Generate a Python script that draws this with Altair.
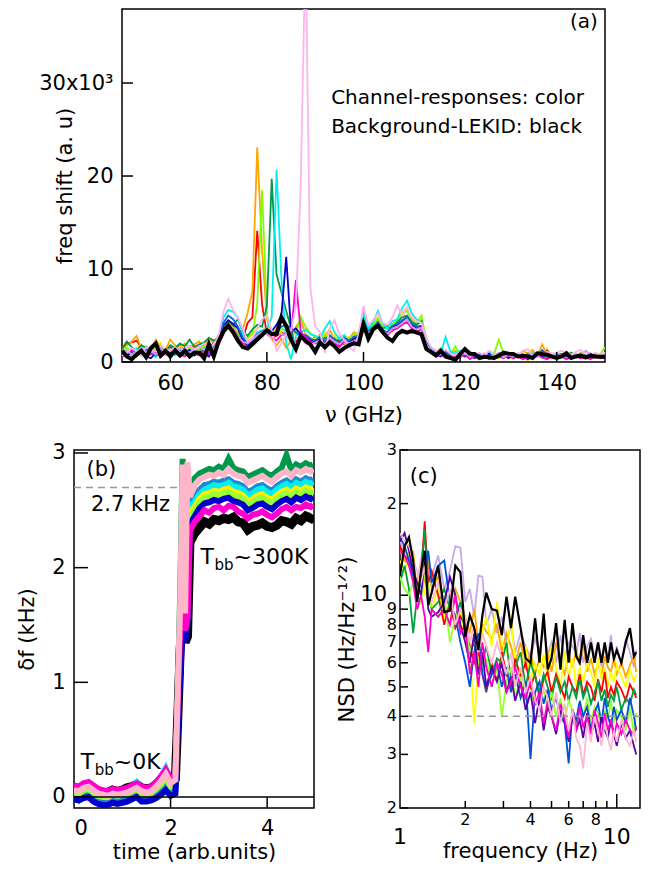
import altair as alt
import pandas as pd

FONT = "DejaVu Sans"

# ======================= panel (a) data =======================
a_ghz = list(range(50, 151))
a_black = [1.2,0.6,0.3,0.8,1.2,0.5,1.5,2.0,0.7,1.2,
           0.6,1.25,0.7,1.2,0.6,1.0,1.0,0.4,1.9,0.6,
           2.2,3.3,3.9,3.2,2.3,1.6,1.45,1.9,2.4,2.9,
           3.4,3.0,3.0,4.8,3.9,2.4,1.4,2.8,2.25,1.9,
           1.1,2.1,1.6,2.1,1.7,1.1,1.5,1.8,2.0,1.9,
           4.05,2.5,3.5,3.9,3.2,2.6,2.25,3.0,3.35,3.15,
           3.35,3.15,3.0,1.4,1.07,0.7,1.2,0.6,0.43,0.22,
           0.86,1.4,0.9,0.86,0.43,0.57,0.5,0.43,0.68,1.0,
           0.9,0.86,0.6,0.68,0.6,0.43,0.93,0.85,0.79,0.57,
           0.43,0.6,0.93,0.43,0.6,0.68,0.5,0.68,0.6,0.57,0.57]
a_red = [1.5,2.0,2.1,2.3,1.6,1.2,1.5,1.0,1.8,1.2,
         1.6,1.3,1.8,1.1,1.4,1.7,1.2,1.9,1.5,2.1,
         2.5,3.6,4.2,3.8,3.0,2.4,4.2,4.8,14.1,6.2,
         3.0,2.6,2.8,3.2,2.9,2.5,2.2,2.6,2.4,2.0,
         2.8,2.4,2.9,2.1,2.6,2.3,1.9,2.5,2.8,2.6,
         4.6,3.2,4.1,4.4,3.5,3.0,3.6,4.0,4.4,4.9,
         4.0,3.8,3.9,2.2,1.4,1.1,1.3,0.9,0.7,0.8,
         1.0,1.2,0.8,0.6,0.9,0.5,0.7,0.6,0.9,0.8,
         0.7,0.9,0.5,0.8,0.6,1.0,0.7,0.8,0.5,0.6,
         0.7,0.5,0.8,0.6,0.7,0.9,0.5,0.6,0.7,0.5,0.6]
a_orange = [1.0,1.8,2.2,2.8,1.5,1.7,1.2,2.4,1.6,1.3,
            2.4,1.8,1.4,2.0,1.6,1.9,2.2,1.5,2.6,2.0,
            2.9,3.4,4.0,3.6,3.1,3.5,5.3,7.6,23.1,12.0,
            4.7,2.5,1.8,2.5,1.5,2.3,3.8,4.5,3.0,2.6,
            2.2,3.0,2.7,3.5,2.4,2.0,2.8,2.5,3.2,2.9,
            4.2,3.6,3.9,4.6,3.8,4.0,3.3,4.4,5.0,5.6,
            4.6,4.2,4.5,2.6,1.3,1.0,1.5,1.1,0.8,1.2,
            0.9,0.6,1.1,0.7,0.5,0.9,0.4,1.0,0.7,0.6,
            1.0,0.8,0.6,1.2,0.9,1.3,0.7,1.9,0.8,0.6,
            0.9,0.7,1.1,0.8,0.6,1.0,0.7,0.9,0.8,0.7,1.0]
a_yellow = [0.8,1.2,0.6,1.5,1.9,0.9,1.6,1.1,2.0,0.7,
            1.4,1.0,1.7,1.3,0.9,1.6,1.2,0.8,1.5,1.8,
            2.2,3.0,4.2,3.5,2.6,2.0,2.4,3.1,3.6,3.9,
            3.2,2.8,3.6,3.1,2.7,2.9,3.4,3.0,2.5,2.3,
            2.6,2.1,3.2,2.4,2.9,1.8,2.3,2.7,2.5,3.0,
            4.9,3.3,4.4,4.8,3.6,3.7,3.9,4.6,5.3,5.8,
            4.8,4.3,4.6,2.4,1.2,0.7,1.1,0.6,0.4,0.9,
            0.6,0.9,0.4,0.7,0.3,0.6,0.8,0.5,0.4,0.7,
            0.5,0.3,0.7,0.6,0.2,0.5,0.8,0.4,1.4,0.6,
            0.5,0.7,0.4,0.6,0.9,0.5,0.3,0.6,0.4,0.7,0.5]
a_lime = [1.2,1.6,1.0,1.4,0.8,1.7,1.1,1.5,0.9,1.3,
          1.0,1.5,1.2,0.8,1.6,1.1,1.4,1.7,1.2,1.6,
          2.0,3.2,4.0,3.7,3.0,2.3,2.6,3.0,6.2,18.5,
          5.0,3.4,3.0,3.6,3.2,3.4,3.0,4.9,3.8,3.1,
          2.7,2.4,2.9,2.6,2.2,2.8,2.0,2.6,2.9,3.2,
          5.0,3.5,4.0,4.7,3.9,3.5,4.1,4.4,5.2,5.5,
          4.4,4.1,5.0,2.3,1.2,0.9,0.7,1.0,0.8,1.7,
          0.8,1.0,0.6,0.5,0.7,0.9,0.6,0.8,2.4,1.0,
          0.7,0.5,0.9,0.6,0.8,0.5,0.7,0.9,0.6,0.8,
          0.6,0.9,0.7,0.5,0.8,0.6,0.9,0.7,0.6,0.8,1.6]
a_green = [1.4,2.2,1.6,1.2,1.8,1.5,1.3,1.9,1.6,1.1,
           1.8,1.5,2.0,1.7,2.4,1.6,1.9,2.1,2.6,2.3,
           2.6,3.4,4.4,4.0,4.6,3.3,2.8,3.5,4.0,3.8,
           6.0,19.7,9.4,7.5,5.5,3.6,1.2,3.0,2.7,2.3,
           2.4,2.0,2.6,2.2,2.5,2.1,2.7,2.3,2.6,2.8,
           4.5,3.4,3.8,4.2,3.6,3.9,3.5,4.3,4.8,5.0,
           4.3,4.0,4.4,2.0,1.5,1.2,0.9,1.2,0.6,0.8,
           1.1,0.7,0.9,0.5,0.8,0.6,0.4,0.7,0.9,0.5,
           0.8,0.6,0.7,0.4,0.9,0.6,0.8,0.5,0.7,0.9,
           0.5,0.8,0.6,1.0,0.7,0.5,0.8,0.6,0.7,0.5,0.8]
a_cyan = [0.6,1.1,0.9,1.4,0.7,1.2,1.0,0.5,1.3,0.8,
          1.1,0.7,1.3,0.9,1.2,0.8,1.0,1.4,1.1,1.7,
          2.1,4.8,5.6,5.4,4.8,3.0,1.5,2.4,3.2,3.4,
          3.6,4.8,20.7,9.0,2.0,0.3,2.8,3.2,3.5,3.0,
          2.8,2.6,3.6,4.4,3.2,2.5,2.9,2.2,2.6,2.9,
          5.3,3.6,4.3,5.5,4.1,3.6,4.4,4.6,5.8,6.6,
          5.2,4.6,4.2,2.4,1.5,0.9,1.0,2.7,1.1,0.9,
          1.2,0.8,1.0,0.6,0.9,0.7,1.1,0.5,0.8,1.0,
          0.6,0.9,0.7,0.5,0.8,1.0,0.6,0.7,0.9,0.5,
          0.8,0.6,1.0,0.7,0.5,0.9,0.6,0.8,0.5,0.7,0.6]
a_blue = [0.9,0.5,1.2,0.8,1.4,0.6,0.4,1.0,0.7,1.1,
          0.8,1.2,0.6,1.0,1.3,0.7,1.1,0.9,0.6,1.4,
          2.3,3.9,4.5,4.1,3.6,2.4,1.8,2.2,2.8,3.1,
          3.5,3.3,4.0,5.0,11.3,3.3,3.6,3.0,2.6,2.4,
          2.2,2.5,2.0,2.7,2.3,1.8,2.4,2.1,2.5,2.7,
          4.3,3.1,3.6,4.0,3.3,3.1,3.8,3.9,4.3,4.7,
          4.0,3.6,3.8,1.9,1.1,0.8,0.6,1.0,0.7,0.5,
          0.9,0.6,0.8,0.4,0.7,0.5,0.9,0.3,0.6,0.8,
          0.4,0.7,0.5,0.8,0.3,0.6,0.9,0.5,1.2,0.7,
          0.4,0.6,0.8,0.5,0.7,0.4,0.6,0.9,0.5,0.6,0.4]
a_royal = [1.1,0.8,1.3,0.6,1.0,1.4,0.9,0.7,1.2,1.0,
           1.3,0.9,1.1,1.5,0.8,1.2,1.0,1.3,0.9,1.5,
           2.4,4.2,5.0,4.6,3.8,2.6,2.0,2.5,3.0,3.3,
           3.4,3.0,3.3,3.8,4.0,3.6,3.2,2.8,2.9,2.5,
           2.3,2.7,2.2,2.9,2.4,2.0,2.6,2.3,2.7,2.8,
           4.4,3.2,3.7,4.3,3.4,3.2,3.9,4.1,4.5,4.8,
           4.1,3.8,3.6,2.0,1.3,0.9,0.8,1.1,0.6,0.7,
           1.0,0.7,0.9,0.6,0.8,0.5,0.7,0.6,0.9,0.6,
           0.8,0.6,0.9,0.5,0.7,0.8,0.6,1.3,0.7,0.5,
           0.7,0.9,0.6,0.8,0.5,0.7,0.6,0.8,0.7,0.5,0.7]
a_magenta = [0.5,0.9,1.3,0.7,1.1,0.6,0.8,1.2,0.5,1.0,
             0.7,1.1,0.8,0.6,1.0,0.9,0.7,1.2,0.8,1.3,
             1.9,3.0,3.8,3.5,2.8,2.1,1.6,2.0,2.5,2.9,
             3.1,2.7,2.3,2.9,3.0,2.7,8.8,3.3,2.6,2.2,
             2.0,2.3,1.8,2.4,2.1,1.6,2.2,1.9,2.3,2.5,
             4.0,3.0,3.4,3.8,3.1,2.9,3.4,3.6,4.0,4.3,
             3.6,3.3,3.5,1.7,1.0,0.6,0.8,0.5,0.4,0.7,
             0.5,0.8,0.3,0.6,0.4,0.7,0.3,0.5,0.6,0.4,
             0.7,0.4,0.6,0.3,0.5,0.4,0.7,0.5,0.3,0.6,
             0.4,0.6,0.3,0.5,0.7,0.4,0.5,0.3,0.6,0.4,0.5]
a_lavender = [1.0,1.3,0.8,1.1,1.5,1.0,1.2,0.8,1.4,1.1,
              1.4,1.1,1.5,1.2,1.0,1.4,1.7,1.3,1.6,1.4,
              2.2,3.1,3.6,3.3,2.7,2.2,2.0,2.4,2.9,3.2,
              3.0,2.6,3.1,3.0,2.8,2.3,2.5,2.7,2.0,1.8,
              2.1,2.3,1.9,2.6,2.2,1.9,2.4,2.0,2.2,2.4,
              4.1,3.1,3.5,3.9,3.3,3.0,3.6,3.8,4.2,4.6,
              3.8,3.5,3.7,1.9,1.2,0.8,0.9,0.7,0.5,0.9,
              0.7,1.0,0.6,0.8,0.5,0.9,0.6,0.7,1.0,0.5,
              0.8,0.6,0.9,0.7,0.5,0.8,0.6,0.9,0.7,0.8,
              0.6,0.8,1.0,0.7,0.9,0.6,1.2,0.8,0.6,0.9,0.7]
a_pink = [0.7,1.0,1.5,1.2,0.8,1.6,1.3,1.1,1.7,1.4,
          1.2,1.6,1.0,1.4,1.8,1.3,1.6,2.0,1.5,1.9,
          2.8,5.4,6.8,5.6,4.8,3.6,2.2,2.6,3.6,4.6,
          5.0,3.4,1.2,2.0,3.0,3.4,6.0,19.0,45.0,8.0,
          3.8,3.2,1.0,3.6,4.5,3.0,2.4,1.6,1.2,3.0,
          6.0,4.0,4.5,5.2,4.2,4.0,4.8,6.1,5.0,5.9,
          4.8,4.4,4.2,2.6,1.6,1.2,1.0,1.3,0.9,0.7,
          1.1,0.9,1.2,0.8,1.0,0.7,1.2,0.9,0.8,1.1,
          0.9,1.0,0.8,1.2,1.4,0.7,1.0,0.8,1.1,0.9,
          1.0,1.2,0.9,0.8,1.1,1.3,0.9,0.7,1.0,0.8,1.0]

a_series = {"red": a_red, "orange": a_orange, "yellow": a_yellow, "lime": a_lime,
            "green": a_green, "cyan": a_cyan, "blue": a_blue, "royal": a_royal,
            "magenta": a_magenta, "lavender": a_lavender, "pink": a_pink}
a_colors = {"red": "#ff0000", "orange": "#ffa500", "yellow": "#ffe000", "lime": "#80ff00",
            "green": "#00994c", "cyan": "#00f0f0", "blue": "#0000cc", "royal": "#1060e0",
            "magenta": "#ff00cc", "lavender": "#c8a0e6", "pink": "#ffb3ec"}
a_ytick_vals = [0, 10, 20, 30]
a_xtick_vals = [60, 80, 100, 120, 140]

# ======================= panel (b) data =======================
b_time = [0.0,0.1,0.2,0.3,0.4,0.5,0.6,0.7,0.8,0.9,1.0,1.1,1.2,1.3,1.4,1.5,1.6,1.7,1.8,1.9,2.0,2.1,
          2.15,2.2,2.25,2.3,2.35,2.4,
          2.5,2.6,2.7,2.8,2.9,3.0,3.1,3.2,3.3,3.4,3.5,3.6,3.7,3.8,3.9,4.0,4.1,4.2,4.3,4.4,4.5,4.6,4.7,4.8,4.9,4.95]
b_black = [0.08,0.07,0.10,0.11,0.08,0.05,0.04,0.04,0.06,0.05,0.06,0.08,0.09,0.11,0.08,0.07,0.08,0.11,0.15,0.21,0.13,0.16,
           0.70,1.30,1.60,1.35,1.40,2.22,
           2.30,2.35,2.40,2.38,2.42,2.41,2.43,2.42,2.44,2.40,2.39,2.33,2.36,2.37,2.39,2.36,2.35,2.37,2.41,2.40,2.38,2.43,2.41,2.45,2.43,2.46]
b_green = [-0.02,-0.03,0.00,0.01,-0.02,-0.05,-0.06,-0.06,-0.04,-0.05,-0.04,-0.03,-0.01,0.01,-0.03,-0.03,-0.02,0.01,0.05,0.10,0.03,0.06,
           0.90,1.80,2.95,1.50,1.80,2.68,
           2.78,2.82,2.84,2.86,2.85,2.88,2.86,2.95,2.87,2.85,2.84,2.79,2.81,2.83,2.85,2.82,2.80,2.84,2.87,2.98,2.85,2.90,2.88,2.91,2.89,2.90]
b_steel = [0.00,-0.01,0.02,0.03,0.00,-0.03,-0.04,-0.04,-0.02,-0.03,-0.02,-0.01,0.01,0.03,-0.01,-0.01,0.00,0.03,0.07,0.12,0.05,0.08,
           0.80,1.55,2.00,1.55,1.85,2.55,
           2.62,2.68,2.72,2.73,2.75,2.74,2.76,2.77,2.74,2.73,2.71,2.66,2.68,2.71,2.72,2.69,2.67,2.71,2.74,2.76,2.73,2.77,2.75,2.78,2.76,2.78]
b_cyan = [0.09,0.08,0.11,0.12,0.09,0.06,0.05,0.05,0.06,0.05,0.06,0.07,0.09,0.13,0.08,0.07,0.08,0.12,0.17,0.25,0.15,0.18,
          0.85,1.55,1.90,1.55,1.80,2.52,
          2.58,2.64,2.68,2.70,2.72,2.71,2.72,2.74,2.71,2.70,2.68,2.63,2.65,2.68,2.69,2.66,2.64,2.68,2.71,2.73,2.70,2.74,2.72,2.75,2.73,2.75]
b_yellow = [0.05,0.04,0.07,0.08,0.05,0.02,0.01,0.01,0.03,0.02,0.03,0.04,0.05,0.08,0.04,0.03,0.04,0.08,0.12,0.18,0.10,0.13,
            0.80,1.50,1.85,1.50,1.75,2.48,
            2.53,2.60,2.64,2.65,2.67,2.66,2.68,2.69,2.66,2.65,2.63,2.58,2.60,2.63,2.64,2.61,2.59,2.63,2.66,2.68,2.65,2.69,2.67,2.70,2.68,2.70]
b_lime = [0.04,0.03,0.06,0.07,0.04,0.01,0.00,0.00,0.02,0.01,0.02,0.03,0.05,0.07,0.03,0.03,0.04,0.07,0.11,0.17,0.09,0.12,
          0.80,1.50,1.80,1.50,1.70,2.45,
          2.50,2.57,2.61,2.62,2.64,2.63,2.65,2.66,2.63,2.62,2.60,2.55,2.57,2.60,2.61,2.58,2.56,2.60,2.63,2.65,2.62,2.66,2.64,2.67,2.65,2.67]
b_blue = [-0.02,-0.03,-0.01,0.00,-0.04,-0.06,-0.07,-0.07,-0.05,-0.06,-0.05,-0.04,-0.02,0.00,-0.04,-0.04,-0.03,-0.01,0.02,0.06,0.01,0.03,
          0.60,1.05,1.50,1.35,1.50,2.38,
          2.45,2.52,2.56,2.57,2.59,2.58,2.60,2.61,2.58,2.57,2.55,2.50,2.52,2.55,2.56,2.53,2.51,2.55,2.58,2.60,2.57,2.61,2.59,2.62,2.60,2.62]
b_magenta = [0.10,0.09,0.12,0.13,0.10,0.07,0.06,0.05,0.07,0.06,0.07,0.08,0.10,0.12,0.09,0.08,0.09,0.13,0.18,0.24,0.16,0.19,
             0.85,1.45,1.70,1.45,1.55,2.32,
             2.40,2.45,2.50,2.48,2.52,2.53,2.50,2.54,2.53,2.49,2.47,2.43,2.46,2.47,2.49,2.46,2.44,2.47,2.51,2.53,2.50,2.53,2.52,2.55,2.53,2.55]
b_pink = [0.06,0.05,0.08,0.09,0.06,0.03,0.02,0.01,0.03,0.02,0.03,0.04,0.06,0.08,0.05,0.04,0.05,0.09,0.14,0.20,0.12,0.15,
          0.95,1.70,2.90,1.60,2.92,2.62,
          2.72,2.77,2.79,2.81,2.80,2.83,2.81,2.86,2.82,2.80,2.79,2.74,2.76,2.78,2.80,2.77,2.75,2.79,2.82,2.84,2.80,2.85,2.83,2.86,2.84,2.86]
b_series = {"green": b_green, "steel": b_steel, "cyan": b_cyan, "yellow": b_yellow, "lime": b_lime,
            "blue": b_blue, "magenta": b_magenta, "pink": b_pink}
b_colors = {"green": "#00994c", "steel": "#1f8ad0", "cyan": "#00f0f0", "yellow": "#ffee00",
            "lime": "#99ff33", "blue": "#0000cc", "magenta": "#ff00cc", "pink": "#ffb6c8"}
b_ytick_vals = [0, 1, 2, 3]
b_xtick_vals = [2, 4]
b_xlabel_vals = [0, 2, 4]
b_ref_level = 2.7
b_ref_end = 2.24

# ======================= panel (c) data =======================
c_freq = [1.0,1.05,1.1,1.15,1.2,1.25,1.3,1.35,1.4,1.5,
          1.6,1.7,1.8,1.9,2.0,2.1,2.2,2.3,2.4,2.5,
          2.65,2.8,2.95,3.1,3.25,3.4,3.6,3.8,4.0,4.2,
          4.4,4.6,4.8,5.0,5.25,5.5,5.75,6.0,6.25,6.5,
          6.75,7.0,7.3,7.6,7.9,8.2,8.5,8.8,9.1,9.4,
          9.7,10.0,10.5,11.0,11.5,12.0,12.3]
c_black = [11.6,14.5,15.5,13.0,9.5,12.0,14.0,9.3,10.2,12.5,
           8.8,8.9,12.5,11.9,7.3,8.6,7.8,6.6,8.6,10.2,
           9.0,8.9,7.4,9.9,7.8,9.9,7.8,6.2,6.0,8.4,
           6.0,8.7,5.7,6.2,8.1,5.7,8.3,6.0,8.1,6.3,
           6.0,7.4,6.0,7.0,6.0,7.0,6.0,7.0,6.0,7.0,
           6.2,6.6,6.0,7.0,7.8,6.3,6.5]
c_lavender = [15.0,14.0,13.5,12.0,11.0,13.0,15.5,12.5,11.5,13.5,
              10.5,12.0,14.5,14.3,9.5,10.5,8.5,11.6,11.5,8.0,
              9.0,7.5,8.5,7.0,8.0,6.5,7.5,6.8,6.2,7.2,
              6.5,7.8,6.4,7.0,6.0,7.4,6.2,7.0,6.8,6.4,
              7.5,6.0,6.8,7.2,6.3,7.0,5.8,6.9,6.2,7.4,
              6.0,6.8,5.9,7.2,6.5,5.8,6.6]
c_orange = [14.0,13.0,12.5,14.0,10.0,12.0,11.0,13.5,10.5,11.5,
            9.0,8.0,10.5,9.5,8.5,7.5,9.0,7.0,8.0,7.6,
            7.2,8.0,6.5,7.5,6.8,6.0,7.0,5.8,6.5,5.5,
            6.2,5.8,6.5,5.6,7.0,6.0,5.5,6.4,5.8,6.6,
            5.9,7.0,5.6,6.2,5.5,6.0,5.4,6.3,5.8,5.6,
            6.2,5.5,6.0,5.4,5.9,6.3,5.6]
c_yellow = [13.0,12.0,14.0,11.5,10.5,12.5,10.0,11.0,9.0,10.5,
            8.5,9.5,8.0,9.0,7.0,6.5,3.8,6.0,7.5,8.5,
            6.8,9.5,7.0,6.5,8.5,6.0,5.5,6.8,5.2,6.0,
            5.5,6.4,5.2,6.8,5.8,5.0,6.5,5.4,6.2,5.0,
            5.8,5.2,6.0,5.6,5.0,6.2,5.3,5.8,5.0,5.6,
            5.2,5.9,5.4,5.0,5.7,5.2,5.5]
c_red = [14.5,13.5,13.0,12.0,10.0,11.5,17.5,11.0,12.0,10.0,
         8.0,9.5,7.8,8.5,8.0,6.8,6.0,6.5,5.5,4.8,
         6.0,5.2,6.5,5.5,5.0,6.2,5.4,6.0,5.0,5.5,
         4.6,5.3,5.6,4.8,5.5,5.0,4.6,5.4,5.0,4.8,
         5.5,4.7,5.2,5.0,4.5,5.3,4.8,5.6,4.6,5.0,
         4.7,5.2,4.9,4.5,5.1,4.8,4.6]
c_green = [11.0,12.5,10.5,7.5,10.0,11.5,16.5,10.0,9.0,9.5,
           10.5,9.0,8.5,9.5,7.5,6.5,7.0,5.5,6.0,6.8,
           5.5,6.2,6.0,7.0,5.2,5.8,6.5,5.0,6.0,5.4,
           4.8,5.5,5.0,4.6,5.4,4.8,5.2,4.5,5.0,4.6,
           5.3,4.6,5.0,4.4,4.8,5.2,4.5,4.9,4.3,4.7,
           4.5,5.0,4.2,4.6,4.4,4.9,4.7]
c_lime = [11.5,10.5,10.0,11.0,9.0,9.5,12.0,10.5,9.0,8.5,
          10.0,7.0,8.5,9.0,8.0,6.5,7.2,6.0,5.5,6.2,
          5.0,5.8,4.0,5.2,5.8,4.6,5.4,4.2,4.8,4.4,
          4.5,4.9,4.2,4.8,4.0,4.6,3.9,4.5,4.2,3.7,
          4.4,4.0,4.6,3.8,4.3,4.1,3.6,4.2,3.9,4.5,
          3.8,4.2,4.0,3.6,4.3,3.5,4.1]
c_blue = [15.5,14.5,13.0,11.5,10.0,11.0,12.5,14.0,11.0,12.5,
          13.0,9.5,8.5,7.0,6.0,5.0,6.5,7.5,5.5,4.9,
          5.5,6.0,5.0,5.8,4.8,5.5,4.6,5.2,2.9,4.8,
          5.2,4.4,4.9,4.2,4.6,4.0,3.8,2.8,4.2,3.9,
          4.5,4.0,4.3,3.6,4.1,4.4,3.8,4.6,4.0,3.7,
          4.3,3.9,4.2,3.8,4.6,4.0,3.6]
c_purple = [15.0,16.0,14.0,12.0,11.0,10.0,13.0,9.0,8.5,8.8,
            9.5,11.5,10.0,8.0,7.0,6.0,7.5,5.5,6.5,5.0,
            5.8,5.2,6.0,4.8,5.4,4.5,5.2,4.2,4.8,3.8,
            4.6,3.6,4.3,4.0,3.5,4.2,3.8,3.3,4.0,3.6,
            3.9,3.4,4.1,3.5,3.8,3.3,4.0,3.6,3.4,3.9,
            3.5,3.2,3.8,3.4,3.6,3.2,3.0]
c_magenta = [14.0,13.5,12.5,11.0,9.0,10.0,8.5,6.5,9.0,8.5,
             9.0,8.0,10.0,7.5,8.0,5.5,6.5,5.0,7.0,5.8,
             5.0,6.0,5.5,4.8,5.2,5.8,5.0,4.6,5.2,4.4,
             4.8,3.8,4.5,4.0,3.6,4.4,3.9,3.4,4.2,3.6,
             4.3,3.7,4.0,3.5,4.2,3.8,3.4,4.1,3.6,3.9,
             3.4,3.8,3.5,3.9,3.6,3.5,3.7]
c_pink = [16.0,15.0,14.5,13.0,12.0,11.0,12.5,10.0,9.5,11.0,
          9.0,10.5,8.0,9.0,8.5,7.0,8.0,6.5,7.5,6.8,
          6.0,7.0,6.2,5.5,6.5,5.0,5.8,4.8,5.4,4.5,
          4.2,5.0,4.6,4.0,4.8,3.8,4.4,3.6,4.2,3.4,
          3.2,2.7,3.8,3.3,4.0,3.6,3.2,3.8,3.4,3.1,
          3.6,3.3,3.9,3.4,3.2,3.6,3.3]
c_series = {"lavender": c_lavender, "orange": c_orange, "yellow": c_yellow, "red": c_red,
            "green": c_green, "lime": c_lime, "blue": c_blue, "purple": c_purple,
            "magenta": c_magenta, "pink": c_pink}
c_colors = {"lavender": "#c8a8e8", "orange": "#ffa500", "yellow": "#ffff00", "red": "#ff0000",
            "green": "#00a040", "lime": "#99ff33", "blue": "#0050d8", "purple": "#5500a8",
            "magenta": "#ff00cc", "pink": "#ffb6d0"}
c_minor_vals = [2, 3, 4, 5, 6, 7, 8, 9]
c_major_vals = [10]
c_ytick_vals = [2, 3, 4, 5, 6, 7, 8, 9, 10, 20, 30]
c_ylab_vals = [2, 3, 4, 5, 6, 7, 8, 9, 20, 30]
c_ylab_text = ["2", "3", "4", "5", "6", "7", "8", "9", "2", "3"]
c_xlab_small_vals = [2, 4, 6, 8]
c_xlab_small_text = ["2", "4", "6", "8"]
c_xlab_big_vals = [1, 10]
c_xlab_big_text = ["1", "10"]
c_ref_level = 4


def long_df(x, series, colors):
    rows = []
    for name, vals in series.items():
        assert len(vals) == len(x), (name, len(vals), len(x))
        rows += [{"x": xi, "y": yi, "s": name, "c": colors[name]} for xi, yi in zip(x, vals)]
    return pd.DataFrame(rows)


def frame(px1, py1, px2, py2):
    # invisible (white) anchor that fixes the panel's outer bounds for the layout
    return alt.Chart(pd.DataFrame({"k": [0]})).mark_rule(color="white", strokeWidth=0.5).encode(
        x=alt.value(px1), x2=alt.value(px2), y=alt.value(py1), y2=alt.value(py2))


def spacer():
    return alt.Chart(pd.DataFrame({"k": [0]})).mark_rule(color="white", strokeWidth=0.5).encode(
        x=alt.value(0), x2=alt.value(1), y=alt.value(0)).properties(
        width=1, height=1, view=alt.ViewBackground(stroke="transparent"))


# ======================= panel (a) chart =======================
A_W, A_H = 483, 353
sxa = alt.Scale(domain=[50, 150], nice=False, zero=False)
sya = alt.Scale(domain=[0, 37.96], nice=False, zero=False)
axa_x = alt.Axis(values=a_xtick_vals, title="ν (GHz)", labelPadding=10, titlePadding=11)
axa_y = alt.Axis(values=a_ytick_vals, title="freq shift (a. u)",
                 labelExpr="datum.value == 30 ? '30x10³' : datum.label",
                 labelPadding=9, minExtent=40, maxExtent=40, titlePadding=7)


def XA(f):
    return alt.X(f, scale=sxa, axis=axa_x)


def YA(f):
    return alt.Y(f, scale=sya, axis=axa_y)


df_a = long_df(a_ghz, a_series, a_colors)
df_ak = pd.DataFrame({"x": a_ghz, "y": a_black})

a_lines = alt.Chart(df_a).mark_line(strokeWidth=1.8, clip=True).encode(
    x=XA("x:Q"), y=YA("y:Q"), detail="s:N", color=alt.Color("c:N", scale=None))
a_blk = alt.Chart(df_ak).mark_line(color="black", strokeWidth=4, clip=True).encode(x=XA("x:Q"), y=YA("y:Q"))
a_yt = alt.Chart(pd.DataFrame({"y": a_ytick_vals})).mark_rule(color="black", strokeWidth=1.5).encode(
    y=YA("y:Q"), x=alt.value(0), x2=alt.value(11))
a_xt = alt.Chart(pd.DataFrame({"x": a_xtick_vals})).mark_rule(color="black", strokeWidth=1.5).encode(
    x=XA("x:Q"), y=alt.value(A_H), y2=alt.value(A_H - 10))
a_txt = alt.Chart(pd.DataFrame({"x": [93.3, 93.3], "y": [27.7, 24.6],
                                "t": ["Channel-responses: color", "Background-LEKID: black"]})).mark_text(
    align="left", baseline="alphabetic", fontSize=20, font=FONT).encode(x=XA("x:Q"), y=YA("y:Q"), text="t:N")
a_lab = alt.Chart(pd.DataFrame({"x": [148.5], "y": [35.9], "t": ["(a)"]})).mark_text(
    align="right", baseline="alphabetic", fontSize=20, font=FONT).encode(x=XA("x:Q"), y=YA("y:Q"), text="t:N")
chart_a = alt.layer(a_lines, a_blk, a_yt, a_xt, a_txt, a_lab,
                    frame(-110, 0, -110, A_H + 66)).properties(width=A_W, height=A_H)

# ======================= panel (b) chart =======================
B_W, B_H = 240, 358
sxb = alt.Scale(domain=[0, 4.97], nice=False, zero=False)
syb = alt.Scale(domain=[-0.096, 3.026], nice=False, zero=False)
axb_x = alt.Axis(values=b_xlabel_vals, title="time (arb.units)", labelPadding=9, titlePadding=3)
axb_y = alt.Axis(values=b_ytick_vals, title="δf (kHz)", labelPadding=9, minExtent=22, maxExtent=22,
                 titlePadding=15)


def XB(f):
    return alt.X(f, scale=sxb, axis=axb_x)


def YB(f):
    return alt.Y(f, scale=syb, axis=axb_y)


df_b = long_df(b_time, b_series, b_colors)
df_bk = pd.DataFrame({"x": b_time, "y": b_black})

b_blk = alt.Chart(df_bk).mark_line(color="black", strokeWidth=9, clip=True).encode(x=XB("x:Q"), y=YB("y:Q"))
b_lines = alt.Chart(df_b).mark_line(strokeWidth=6, clip=True).encode(
    x=XB("x:Q"), y=YB("y:Q"), detail="s:N", color=alt.Color("c:N", scale=None))
b_zero = alt.Chart(pd.DataFrame({"y": [0]})).mark_rule(color="black", strokeWidth=1.5).encode(y=YB("y:Q"))
b_dash = alt.Chart(pd.DataFrame({"x": [0], "x1": [b_ref_end], "y": [b_ref_level]})).mark_rule(
    color="#999999", strokeWidth=1.5, strokeDash=[7, 5]).encode(x=XB("x:Q"), x2="x1:Q", y=YB("y:Q"))
b_yt = alt.Chart(pd.DataFrame({"y": b_ytick_vals})).mark_rule(color="black", strokeWidth=1.5).encode(
    y=YB("y:Q"), x=alt.value(0), x2=alt.value(14))
b_xt = alt.Chart(pd.DataFrame({"x": b_xtick_vals})).mark_rule(color="black", strokeWidth=1.5).encode(
    x=XB("x:Q"), y=alt.value(B_H), y2=alt.value(B_H - 11))


def btext(x, y, t, size, dx=0, dy=0, align="left"):
    return alt.Chart(pd.DataFrame({"x": [x], "y": [y], "t": [t]})).mark_text(
        align=align, baseline="alphabetic", fontSize=size, font=FONT, dx=dx, dy=dy).encode(
        x=XB("x:Q"), y=YB("y:Q"), text="t:N")


b_texts = [
    btext(0.26, 2.80, "(b)", 21),
    btext(0.35, 2.49, "2.7 kHz", 21),
    btext(2.62, 2.03, "T", 22), btext(2.62, 2.03, "bb", 15, dx=14, dy=6), btext(2.62, 2.03, "~300K", 22, dx=33),
    btext(0.14, 0.24, "T", 22), btext(0.14, 0.24, "bb", 15, dx=14, dy=6), btext(0.14, 0.24, "~0K", 22, dx=33),
]
chart_b = alt.layer(b_blk, b_lines, b_zero, b_dash, b_yt, b_xt, *b_texts,
                    frame(-62, -20, -62, -19), frame(B_W + 2, 0, B_W + 2, 1)).properties(width=B_W, height=B_H)

# ======================= panel (c) chart =======================
C_W, C_H = 240, 358
sxc = alt.Scale(type="log", domain=[1, 12.8], nice=False)
syc = alt.Scale(type="log", domain=[2, 30], nice=False)
axc_x = alt.Axis(labels=False, title="frequency (Hz)", minExtent=0, maxExtent=0, titlePadding=32)
axc_y = alt.Axis(labels=False, title="NSD (Hz/Hz⁻¹ᐟ²)", minExtent=0, maxExtent=0, titlePadding=43,
                 titleY=C_H / 2 + 10)


def XC(f):
    return alt.X(f, scale=sxc, axis=axc_x)


def YC(f):
    return alt.Y(f, scale=syc, axis=axc_y)


df_c = long_df(c_freq, c_series, c_colors)
df_ck = pd.DataFrame({"x": c_freq, "y": c_black})

c_lines = alt.Chart(df_c).mark_line(strokeWidth=1.8, clip=True).encode(
    x=XC("x:Q"), y=YC("y:Q"), detail="s:N", color=alt.Color("c:N", scale=None))
c_blk = alt.Chart(df_ck).mark_line(color="black", strokeWidth=2.2, clip=True).encode(x=XC("x:Q"), y=YC("y:Q"))
c_dash = alt.Chart(pd.DataFrame({"y": [c_ref_level]})).mark_rule(
    color="#999999", strokeWidth=1.5, strokeDash=[7, 5]).encode(y=YC("y:Q"))
c_xmin = alt.Chart(pd.DataFrame({"x": c_minor_vals})).mark_rule(color="black", strokeWidth=1.5).encode(
    x=XC("x:Q"), y=alt.value(C_H), y2=alt.value(C_H - 7))
c_xmaj = alt.Chart(pd.DataFrame({"x": c_major_vals})).mark_rule(color="black", strokeWidth=1.5).encode(
    x=XC("x:Q"), y=alt.value(C_H), y2=alt.value(C_H - 14))
c_yt = alt.Chart(pd.DataFrame({"y": c_ytick_vals})).mark_rule(color="black", strokeWidth=1.5).encode(
    y=YC("y:Q"), x=alt.value(0), x2=alt.value(8))
c_ylab = alt.Chart(pd.DataFrame({"y": c_ylab_vals, "t": c_ylab_text})).mark_text(
    align="right", baseline="middle", fontSize=16, font=FONT).encode(y=YC("y:Q"), x=alt.value(-3), text="t:N")
c_ylab10 = alt.Chart(pd.DataFrame({"y": [10], "t": ["10"]})).mark_text(
    align="right", baseline="middle", fontSize=21, font=FONT).encode(y=YC("y:Q"), x=alt.value(-13), text="t:N")
c_xlab = alt.Chart(pd.DataFrame({"x": c_xlab_small_vals, "t": c_xlab_small_text})).mark_text(
    align="center", baseline="top", fontSize=16, font=FONT).encode(x=XC("x:Q"), y=alt.value(C_H + 4), text="t:N")
c_xlabbig = alt.Chart(pd.DataFrame({"x": c_xlab_big_vals, "t": c_xlab_big_text})).mark_text(
    align="center", baseline="top", fontSize=22, font=FONT).encode(x=XC("x:Q"), y=alt.value(C_H + 19), text="t:N")
c_lab = alt.Chart(pd.DataFrame({"x": [1.11], "y": [23.3], "t": ["(c)"]})).mark_text(
    align="left", baseline="alphabetic", fontSize=21, font=FONT).encode(x=XC("x:Q"), y=YC("y:Q"), text="t:N")
chart_c = alt.layer(c_lines, c_blk, c_dash, c_xmin, c_xmaj, c_yt, c_ylab, c_ylab10, c_xlab, c_xlabbig,
                    c_lab, frame(-82, -20, -82, -19)).properties(width=C_W, height=C_H)

# ======================= layout =======================
top = alt.hconcat(spacer(), chart_a, spacing=0)
bottom = alt.hconcat(spacer(), chart_b, chart_c, spacing=0)
chart = alt.vconcat(top, bottom, spacing=0).properties(
    padding={"left": 0, "top": 0, "right": 0, "bottom": 0}
).configure_view(stroke="black", strokeWidth=1.5).configure_axis(
    grid=False, domain=False, ticks=False, tickSize=0, labelFont=FONT, titleFont=FONT,
    labelFontSize=21, titleFontSize=21, labelColor="black", titleColor="black", titleFontWeight="normal"
).configure_text(font=FONT)

chart.save("out.html", embed_options={"renderer": "svg", "actions": False})
